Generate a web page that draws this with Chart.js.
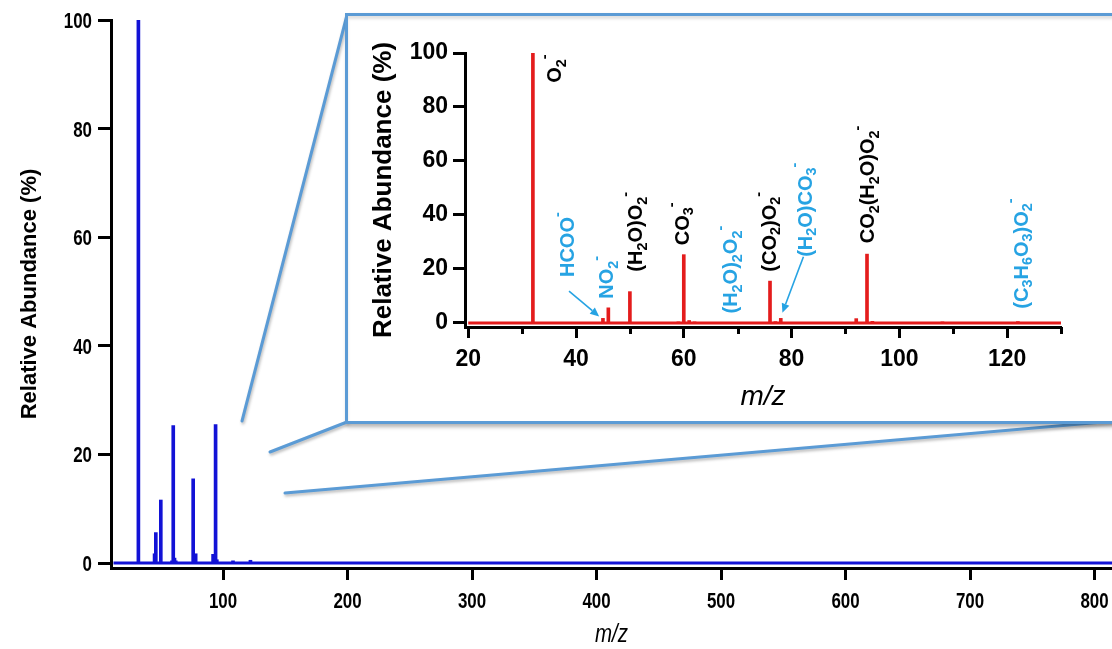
<!DOCTYPE html>
<html><head><meta charset="utf-8">
<script src="https://cdn.jsdelivr.net/npm/chart.js@4.4.1/dist/chart.umd.min.js"></script>
<style>
html,body{margin:0;padding:0;background:#fff;width:1112px;height:649px;overflow:hidden;position:relative;}
#main{position:absolute;left:0;top:0;}
#box{position:absolute;left:345px;top:13px;width:800px;height:405px;border:3px solid #5b9bd5;background:#fff;
 box-shadow:2px 3px 4px rgba(0,0,0,0.30), inset 0 3px 3px rgba(0,0,0,0.12);}
#inset{position:absolute;left:0;top:0;}
</style></head>
<body>
<canvas id="main" width="1112" height="649"></canvas>
<div id="box"><canvas id="inset" width="764" height="405"></canvas></div>
<script>
// ---- data ----
const peakMz        = [32, 45, 46, 50, 59, 60, 61, 62, 76, 77, 78, 92, 94, 95, 108, 122];
const peakAbundance = [100, 1.7, 5.6, 11.6, 0.4, 25.3, 0.9, 0.4, 15.5, 0.5, 1.7, 1.6, 25.5, 0.6, 0.4, 0.5];
const mainBaselineMz  = [12, 1000];
const insetBaselineMz = [20, 130];
const mainXTicks  = [100, 200, 300, 400, 500, 600, 700, 800];
const yTicks      = [0, 20, 40, 60, 80, 100];
const insetXTicks = [20, 40, 60, 80, 100, 120];
const insetMinorTicks = [30, 50, 70, 90, 110, 130];
const ionLabels    = ['O_2^-', 'HCOO^-', 'NO_2^-', '(H_2O)O_2^-', 'CO_3^-', '(H_2O)_2O_2^-', '(CO_2)O_2^-', '(H_2O)CO_3^-', 'CO_2(H_2O)O_2^-', '(C_3H_6O_3)O_2^-'];
const ionLabelMz   = [35.9, 38.3, 45.6, 51.0, 59.6, 68.6, 75.7, 82.4, 94.0, 122.5];
const ionLabelBase = [89, 17, 9, 19, 28.8, 3.5, 19, 24.5, 29.5, 5.3];
const ionTentative = [false, true, true, false, false, true, false, true, false, true];
const arrowFromMz = [38.7, 82.2], arrowFromY = [11.8, 24.5];
const arrowToMz   = [44.3, 78.3], arrowToY   = [2.4, 3.8];
const axisTitleY = 'Relative Abundance (%)';
const axisTitleX = 'm/z';

// ---- styles ----
const MAIN_BLUE = '#1212d6', RED = '#e41c1c', LABEL_BLUE = '#26a3e3', FRAME = '#5b9bd5';
const SANS = "'Liberation Sans',Arial,sans-serif";

const peakPoints = peakMz.map((m, i) => ({x: m, y: peakAbundance[i]}));
const basePts = r => r.map(m => ({x: m, y: 0}));

function axisY(width, font, tickLen, pad, showLabels, title, titleFont, titlePad, min) {
  return {
    type: 'linear', min: min, max: 100,
    afterBuildTicks: s => { s.ticks = yTicks.map(v => ({value: v})); },
    afterFit: s => { s.width = width; },
    border: {display: true, color: '#000', width: 3},
    grid: {drawOnChartArea: false, drawTicks: true, tickLength: tickLen, tickWidth: 3, tickColor: '#000'},
    ticks: {display: showLabels, color: '#000', font: font, padding: pad},
    title: {display: true, text: title, color: '#000', font: titleFont, padding: titlePad}
  };
}

// condensed labels for the main chart (drawn with a horizontal squeeze)
function squeezedText(c, txt, x, y, font, align, baseline, sx) {
  c.save();
  c.translate(x, y); c.scale(sx, 1);
  c.font = font; c.fillStyle = '#000'; c.textAlign = align; c.textBaseline = baseline;
  c.fillText(txt, 0, 0);
  c.restore();
}

const mainDecor = {
  id: 'mainDecor',
  afterDraw(chart) {
    const c = chart.ctx, xs = chart.scales.x, ys = chart.scales.y, ca = chart.chartArea;
    const f = 'bold 22px ' + SANS;
    yTicks.forEach(v => squeezedText(c, String(v), ca.left - 19, ys.getPixelForValue(v) + 8, f, 'right', 'alphabetic', 0.77));
    mainXTicks.forEach(v => squeezedText(c, String(v), xs.getPixelForValue(v), 608, f, 'center', 'alphabetic', 0.77));
    squeezedText(c, axisTitleX, (ca.left + ca.right) / 2, 642, 'italic 25px ' + SANS, 'center', 'alphabetic', 0.82);
    // zoom connector lines to the inset frame
    const segs = [[[347, 15], [242, 421]], [[347, 422], [270, 452]], [[1116, 421], [285, 493]]];
    c.save();
    c.strokeStyle = FRAME; c.lineWidth = 3; c.lineCap = 'round';
    c.shadowColor = 'rgba(0,0,0,0.28)'; c.shadowBlur = 3; c.shadowOffsetX = 1; c.shadowOffsetY = 2;
    segs.forEach(s => { c.beginPath(); c.moveTo(s[0][0], s[0][1]); c.lineTo(s[1][0], s[1][1]); c.stroke(); });
    c.restore();
  }
};

new Chart(document.getElementById('main'), {
  type: 'bar',
  data: {datasets: [
    {type: 'line', data: basePts(mainBaselineMz), borderColor: MAIN_BLUE, borderWidth: 3, pointRadius: 0, order: 2},
    {type: 'bar', data: peakPoints, backgroundColor: MAIN_BLUE, barThickness: 3, borderWidth: 0, order: 1}
  ]},
  options: {
    responsive: false, animation: false,
    layout: {padding: {top: 20, left: 0, right: 0, bottom: 0}},
    plugins: {legend: {display: false}, tooltip: {enabled: false}},
    scales: {
      x: {
        type: 'linear', min: 10, max: 814, offset: false,
        afterBuildTicks: s => { s.ticks = mainXTicks.map(v => ({value: v})); },
        afterFit: s => { s.height = 81; s.paddingLeft = 0; s.paddingRight = 0; },
        border: {display: true, color: '#000', width: 3},
        grid: {offset: false, drawOnChartArea: false, drawTicks: true, tickLength: 12, tickWidth: 3, tickColor: '#000'},
        ticks: {display: false},
        title: {display: false}
      },
      y: axisY(111, {family: SANS, size: 20, weight: 'bold'}, 13, 6, false, axisTitleY,
               {family: SANS, size: 22, weight: 'bold'}, {top: 17, bottom: 0}, -0.92)
    }
  },
  plugins: [mainDecor]
});

function drawFormula(c, str, px, py, size, color) {
  // rotated -90deg, text starts at (px,py) and runs upward; cap centre on px
  const segs = [];
  for (let i = 0; i < str.length; i++) {
    const ch = str[i];
    if (ch === '_') { segs.push({t: str[++i], k: 'sub'}); }
    else if (ch === '^') { segs.push({t: str[++i], k: 'sup'}); }
    else segs.push({t: ch, k: 'n'});
  }
  c.save();
  c.translate(px, py);
  c.rotate(-Math.PI / 2);
  c.fillStyle = color;
  c.textBaseline = 'alphabetic';
  c.textAlign = 'left';
  const base = size * 0.36;
  let x = 0;
  segs.forEach(s => {
    let fs = size, dy = 0;
    if (s.k === 'sub') { fs = size * 0.72; dy = size * 0.22; }
    if (s.k === 'sup') { fs = size * 0.72; dy = -size * 0.62; }
    c.font = 'bold ' + fs + 'px ' + SANS;
    c.fillText(s.t, x, base + dy);
    x += c.measureText(s.t).width;
  });
  c.restore();
}

const insetAnnotations = {
  id: 'insetAnnotations',
  afterDatasetsDraw(chart) {
    const c = chart.ctx, xs = chart.scales.x, ys = chart.scales.y;
    ionLabels.forEach((t, i) => {
      drawFormula(c, t, xs.getPixelForValue(ionLabelMz[i]), ys.getPixelForValue(ionLabelBase[i]), 20,
                  ionTentative[i] ? LABEL_BLUE : '#000');
    });
    c.save();
    c.strokeStyle = LABEL_BLUE; c.fillStyle = LABEL_BLUE; c.lineWidth = 1.6;
    arrowFromMz.forEach((m, i) => {
      const x1 = xs.getPixelForValue(m), y1 = ys.getPixelForValue(arrowFromY[i]);
      const x2 = xs.getPixelForValue(arrowToMz[i]), y2 = ys.getPixelForValue(arrowToY[i]);
      const a = Math.atan2(y2 - y1, x2 - x1), L = 9, W = 4;
      const bx = x2 - L * Math.cos(a), by = y2 - L * Math.sin(a);
      c.beginPath(); c.moveTo(x1, y1); c.lineTo(bx, by); c.stroke();
      c.beginPath(); c.moveTo(x2, y2);
      c.lineTo(bx + W * Math.sin(a), by - W * Math.cos(a));
      c.lineTo(bx - W * Math.sin(a), by + W * Math.cos(a));
      c.closePath(); c.fill();
    });
    c.restore();
  },
  afterDraw(chart) {
    const c = chart.ctx, xs = chart.scales.x, y0 = chart.chartArea.bottom;
    c.save(); c.strokeStyle = '#000'; c.lineWidth = 3;
    insetMinorTicks.forEach(v => {
      const x = Math.round(xs.getPixelForValue(v)) + 0.5;
      c.beginPath(); c.moveTo(x, y0); c.lineTo(x, y0 + 7); c.stroke();
    });
    c.restore();
  }
};

new Chart(document.getElementById('inset'), {
  type: 'bar',
  data: {datasets: [
    {type: 'line', data: basePts(insetBaselineMz), borderColor: RED, borderWidth: 3, pointRadius: 0, order: 2},
    {type: 'bar', data: peakPoints, backgroundColor: RED, barThickness: 3, borderWidth: 0, order: 1}
  ]},
  options: {
    responsive: false, animation: false,
    layout: {padding: {top: 37, left: 0, right: 51, bottom: 0}},
    plugins: {legend: {display: false}, tooltip: {enabled: false}},
    scales: {
      x: {
        type: 'linear', min: 19.4, max: 130, offset: false,
        afterBuildTicks: s => { s.ticks = insetXTicks.map(v => ({value: v})); },
        afterFit: s => { s.height = 94; },
        border: {display: true, color: '#000', width: 3},
        grid: {offset: false, drawOnChartArea: false, drawTicks: true, tickLength: 11, tickWidth: 3, tickColor: '#000'},
        ticks: {color: '#000', font: {family: SANS, size: 23, weight: 'bold'}, padding: 8, maxRotation: 0},
        title: {display: true, text: axisTitleX, color: '#000', font: {family: SANS, size: 28, style: 'italic'}, padding: {top: 0, bottom: 7}}
      },
      y: axisY(117, {family: SANS, size: 23, weight: 'bold'}, 12, 5, true, axisTitleY,
               {family: SANS, size: 26, weight: 'bold'}, {top: 20, bottom: 0}, -1.5)
    }
  },
  plugins: [insetAnnotations]
});
</script>
</body></html>
